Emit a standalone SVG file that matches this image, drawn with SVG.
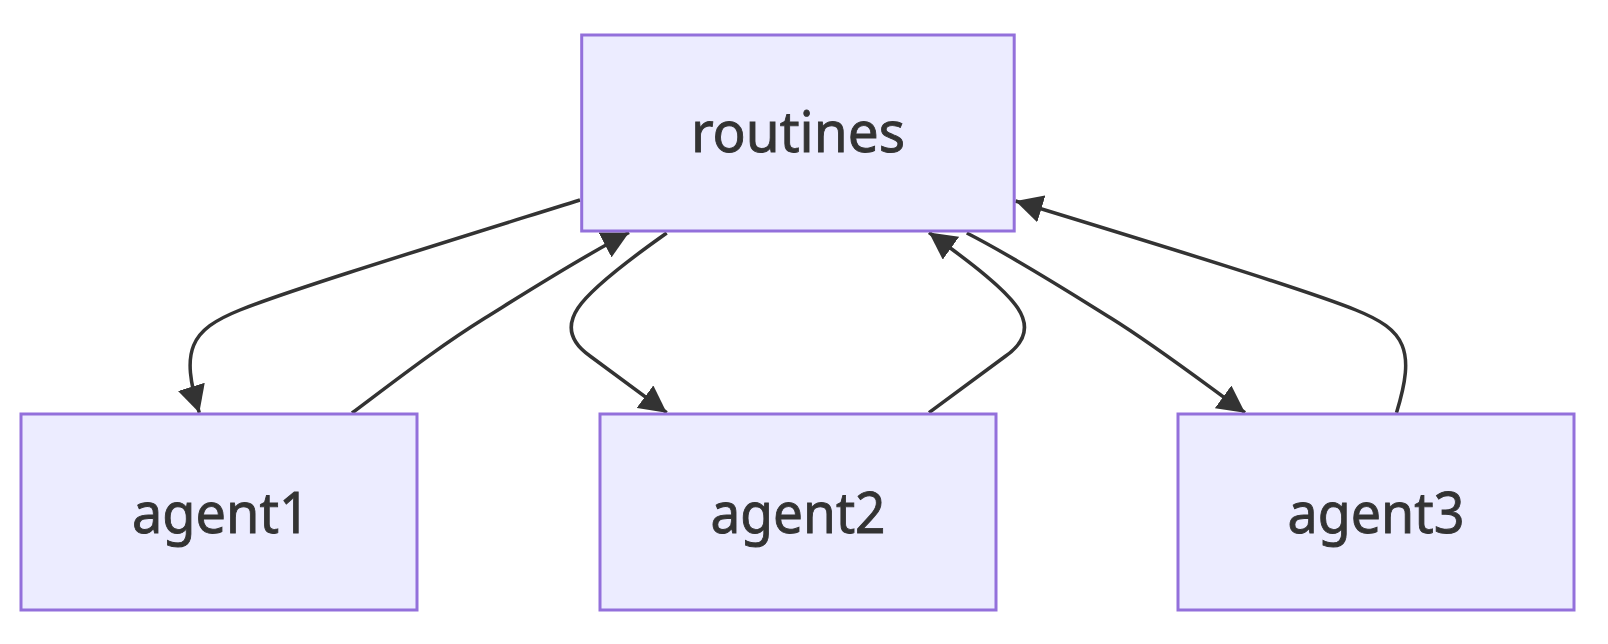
<svg xmlns="http://www.w3.org/2000/svg" width="1608" height="644" viewBox="0 0 1608 644">
  <style>
    .node rect { fill: #ECECFF; stroke: #9370DB; stroke-width: 3; }
    .node text { font-family: "Noto Sans", "Open Sans", sans-serif; font-size: 57px; fill: #333333; stroke: #333333; stroke-width: 0.9; text-anchor: middle; }
    .edge { fill: none; stroke: #333333; stroke-width: 3.5; }
  </style>
  <defs>
    <marker id="arrow" viewBox="0 0 10 10" refX="10" refY="5" markerUnits="userSpaceOnUse" markerWidth="27" markerHeight="28" preserveAspectRatio="none" orient="auto">
      <path d="M0,0 L10,5 L0,10 z" fill="#333333"/>
    </marker>
  </defs>
  <rect x="0" y="0" width="1608" height="644" fill="#ffffff"/>
  <g id="connectors">
    <path class="edge" marker-end="url(#arrow)" d="M580,200 C420,250 290,290 240,310 C190,330 180,350 199.3,412.7"/>
    <path class="edge" marker-end="url(#arrow)" d="M352,413 C400,377 440,346 485,318 C530,290 580,258 629,232.5"/>
    <path class="edge" marker-end="url(#arrow)" d="M666.7,233 C620,266 590,290 578,308 C566,326 570,342 590,356 L666.7,412.7"/>
    <path class="edge" marker-end="url(#arrow)" d="M929,412.7 L1005.7,356 C1025.7,342 1029.7,326 1017.7,308 C1005.7,290 975.7,266 929,232.5"/>
    <path class="edge" marker-end="url(#arrow)" d="M966.8,233 C1015.8,258 1065.8,290 1110.8,318 C1155.8,346 1195.8,377 1245,412.7"/>
    <path class="edge" marker-end="url(#arrow)" d="M1396.5,412.7 C1415.8,350 1405.8,330 1355.8,310 C1305.8,290 1175.8,250 1015.5,201"/>
  </g>
  <g id="node-routines" class="node">
    <rect x="581.7" y="35" width="432.5" height="196"/>
    <text x="798" y="152" textLength="214" lengthAdjust="spacingAndGlyphs">routines</text>
  </g>
  <g id="node-agent1" class="node">
    <rect x="21" y="414" width="396" height="196"/>
    <text x="221" y="533" textLength="178" lengthAdjust="spacingAndGlyphs">agent1</text>
  </g>
  <g id="node-agent2" class="node">
    <rect x="600" y="414" width="396" height="196"/>
    <text x="798" y="533" textLength="175" lengthAdjust="spacingAndGlyphs">agent2</text>
  </g>
  <g id="node-agent3" class="node">
    <rect x="1178" y="414" width="396" height="196"/>
    <text x="1376" y="533" textLength="177" lengthAdjust="spacingAndGlyphs">agent3</text>
  </g>
</svg>
